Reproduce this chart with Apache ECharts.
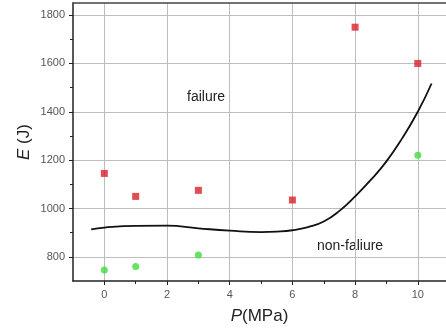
<!DOCTYPE html>
<html>
<head>
<meta charset="utf-8">
<script src="https://cdn.jsdelivr.net/npm/echarts@6/dist/echarts.min.js"></script>
<style>
  html, body { margin: 0; padding: 0; background: #fff; }
  #chart { width: 446px; height: 330px; }
</style>
</head>
<body>
<div id="chart"></div>
<script>
const xMajorTicks = [0, 2, 4, 6, 8, 10];
const xMinorTicks = [1, 3, 5, 7, 9];
const yMajorTicks = [800, 1000, 1200, 1400, 1600, 1800];
const yMinorTicks = [900, 1100, 1300, 1500, 1700];

const failureP = [0, 1, 3, 6, 8, 10];
const failureE = [1145, 1050, 1075, 1035, 1750, 1600];

const nonFailureP = [0, 1, 3, 10];
const nonFailureE = [745, 760, 808, 1220];

// boundary curve
const boundaryP = [-0.42, 0, 1, 2, 3, 4, 5, 5.5, 6, 6.5, 7, 7.5, 8, 8.5, 9, 9.5, 10, 10.44];
const boundaryE = [914, 921, 928, 929, 918, 908, 902, 904, 910, 923, 946, 990, 1050, 1118, 1195, 1290, 1400, 1517];

const font = "Liberation Sans";
const labelColor = "#555";

const chart = echarts.init(document.getElementById("chart"));

const xBase = { type: "value", min: -1, max: 10.9, gridIndex: 0 };
const yBase = { type: "value", min: 700, max: 1850, gridIndex: 0 };
const plain = (v) => String(v);

chart.setOption({
  animation: false,
  backgroundColor: "#fff",
  grid: { left: 73, right: 0, top: 3, bottom: 49 },
  xAxis: [
    {
      ...xBase,
      position: "bottom",
      name: "{i|P}(MPa)",
      nameLocation: "middle",
      nameGap: 27,
      nameTextStyle: {
        fontFamily: font, fontSize: 17, color: "#222",
        rich: { i: { fontStyle: "italic", fontFamily: font, fontSize: 17, color: "#222" } },
      },
      axisLine: { show: true, onZero: false, lineStyle: { color: "#222", width: 1.5 } },
      axisTick: { show: true, length: 4, customValues: xMajorTicks, lineStyle: { color: "#222" } },
      axisLabel: { customValues: xMajorTicks, formatter: plain, color: labelColor, fontFamily: font, fontSize: 11, margin: 8 },
      splitLine: { show: true, lineStyle: { color: "#bdbdbd", width: 1 } },
    },
    {
      ...xBase,
      position: "bottom",
      axisLine: { show: false, onZero: false },
      axisTick: { show: true, length: 3, customValues: xMinorTicks, lineStyle: { color: "#222" } },
      axisLabel: { show: false },
      splitLine: { show: false },
    },
    {
      ...xBase,
      position: "top",
      axisLine: { show: true, onZero: false, lineStyle: { color: "#444", width: 1.5 } },
      axisTick: { show: false },
      axisLabel: { show: false },
      splitLine: { show: false },
    },
  ],
  yAxis: [
    {
      ...yBase,
      position: "left",
      name: "{i|E} (J)",
      nameLocation: "middle",
      nameGap: 40,
      nameMoveOverlap: false,
      nameRotate: 90,
      nameTextStyle: {
        fontFamily: font, fontSize: 17, color: "#222",
        rich: { i: { fontStyle: "italic", fontFamily: font, fontSize: 17, color: "#222" } },
      },
      axisLine: { show: true, onZero: false, lineStyle: { color: "#222", width: 1.5 } },
      axisTick: { show: true, length: 4, customValues: yMajorTicks, lineStyle: { color: "#222" } },
      axisLabel: { customValues: yMajorTicks, formatter: plain, color: labelColor, fontFamily: font, fontSize: 11, margin: 8 },
      splitLine: { show: true, lineStyle: { color: "#bdbdbd", width: 1 } },
    },
    {
      ...yBase,
      position: "left",
      axisLine: { show: false, onZero: false },
      axisTick: { show: true, length: 3, customValues: yMinorTicks, lineStyle: { color: "#222" } },
      axisLabel: { show: false },
      splitLine: { show: false },
    },
  ],
  graphic: [
    {
      type: "text", left: 187, top: 90,
      style: { text: "failure", fontFamily: font, fontSize: 14, fill: "#222" },
    },
    {
      type: "text", left: 317, top: 239,
      style: { text: "non-faliure", fontFamily: font, fontSize: 14, fill: "#222" },
    },
  ],
  series: [
    {
      name: "boundary",
      type: "line",
      smooth: 0.5,
      symbol: "none",
      data: boundaryP.map((p, i) => [p, boundaryE[i]]),
      lineStyle: { color: "#111", width: 1.8 },
      z: 3,
    },
    {
      name: "failure",
      type: "scatter",
      symbol: "rect",
      symbolSize: 7,
      data: failureP.map((p, i) => [p, failureE[i]]),
      itemStyle: { color: "#d91f2b" },
      z: 4,
    },
    {
      name: "non-failure",
      type: "scatter",
      symbol: "circle",
      symbolSize: 7,
      data: nonFailureP.map((p, i) => [p, nonFailureE[i]]),
      itemStyle: { color: "#3fdc3f" },
      z: 4,
    },
  ],
});
</script>
</body>
</html>
